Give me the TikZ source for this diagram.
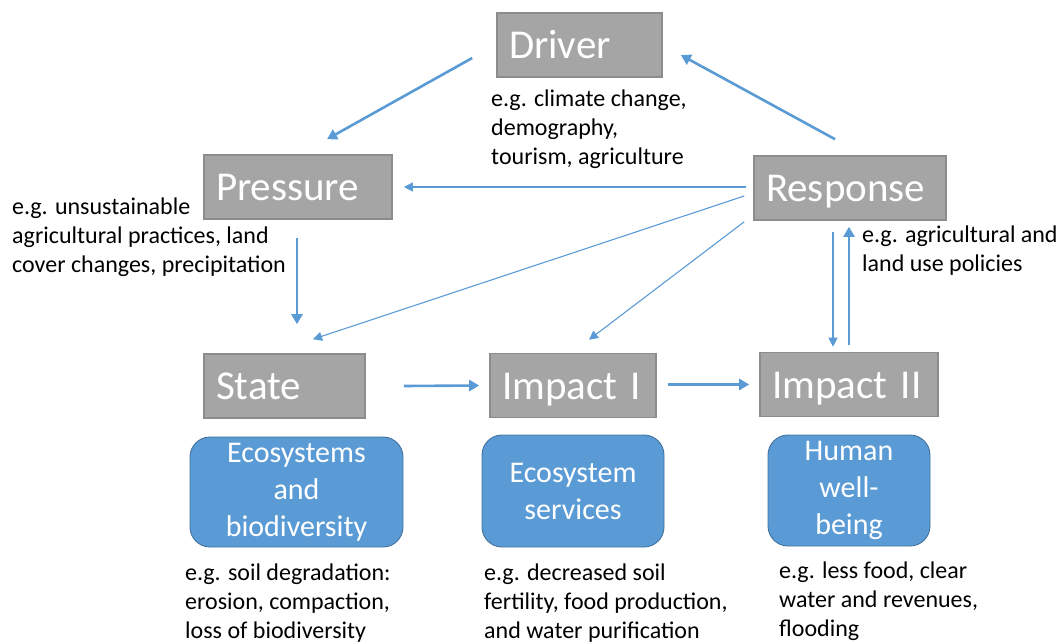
\documentclass[tikz,border=0pt]{standalone}
\usepackage{fontspec}
\setmainfont{Carlito}
\usetikzlibrary{arrows.meta,calc}
\definecolor{greyfill}{HTML}{A5A5A5}
\definecolor{greyline}{HTML}{8C8C8C}
\definecolor{bluefill}{HTML}{5B9BD5}
\definecolor{blueline}{HTML}{41719C}
\definecolor{arrowblue}{HTML}{5B9BD5}
\tikzset{
  greybox/.style={draw=greyline, line width=1.6pt, fill=greyfill, text=white,
    minimum height=64pt, inner xsep=12pt, inner ysep=0pt, align=left,
    text height=27pt, text depth=0pt,
    font=\fontsize{41}{46}\selectfont},
  bluebox/.style={draw=blueline, line width=0.9pt, fill=bluefill, text=white,
    rounded corners=20pt, inner sep=0pt, align=center,
    font=\fontsize{30}{37}\selectfont},
  lbl/.style={inner sep=0pt, align=left, anchor=west,
    font=\fontsize{24}{29}\selectfont},
  thick arrow/.style={draw=arrowblue, line width=2.6pt,
    -{Triangle[length=10pt,width=11pt]}},
  thin arrow/.style={draw=arrowblue, line width=1.1pt,
    -{Triangle[length=9pt,width=9pt]}},
}
\begin{document}
\begin{tikzpicture}[x=1pt,y=-1pt]
\useasboundingbox (0,0) rectangle (1062,643);
% grey boxes
\node[greybox, minimum width=165pt, text width=141pt] (Driver) at (579.5,45) {Driver};
\node[greybox, minimum width=188pt, text width=164pt] (Pressure) at (298,187) {Pressure};
\node[greybox, minimum width=192pt, text width=168pt] (Response) at (850,188) {Response};
\node[greybox, minimum width=161pt, text width=137pt] (State) at (284.5,386) {State};
\node[greybox, minimum width=166pt, text width=142pt] (ImpactI) at (573,385.5) {Impact I};
\node[greybox, minimum width=178pt, text width=154pt] (ImpactII) at (849,384.5) {Impact II};
% blue boxes
\node[bluebox, minimum width=213pt, minimum height=110pt] (Eco) at (296.5,492) {Ecosystems\\and\\biodiversity};
\node[bluebox, minimum width=182pt, minimum height=112pt] (Serv) at (573,491) {Ecosystem\\services};
\node[bluebox, minimum width=162pt, minimum height=111pt] (Human) at (849,490.5) {Human\\well-\\being};
% labels
\node[lbl] (lDriver) at (491,129) {e.g. climate change,\\demography,\\tourism, agriculture};
\node[lbl] (lPressure) at (12,237) {e.g. unsustainable\\agricultural practices, land\\cover changes, precipitation};
\node[lbl] (lResponse) at (862,251) {e.g. agricultural and\\land use policies};
\node[lbl] (lState) at (185,603) {e.g. soil degradation:\\erosion, compaction,\\loss of biodiversity};
\node[lbl] (lImpactI) at (484,603) {e.g. decreased soil\\fertility, food production,\\and water purification};
\node[lbl] (lImpactII) at (779,601) {e.g. less food, clear\\water and revenues,\\flooding};
% connectors
\draw[thick arrow] ($(Driver.west)+(-24,13)$) -- ($(Pressure.north)+(29,-15)$);
\draw[thick arrow] ($(Response.north)+(-15,-16)$) -- ($(Driver.east)+(18,10)$);
\draw[thin arrow] ($(Response.west)+(-7,-1)$) -- ($(Pressure.east)+(11,0)$);
\draw[thin arrow] ($(Response.west)+(-9,8)$) -- ($(State.north)+(28.5,-14)$);
\draw[thin arrow] ($(Response.south west)+(-9,1)$) -- ($(ImpactI.north)+(16,-13)$);
\draw[thin arrow] ($(Response.south)+(-17,11)$) -- ($(ImpactII.north)+(-16,-5)$);
\draw[thick arrow] ($(ImpactII.north)+(0,-7)$) -- ($(Response.south)+(-1,6)$);
\draw[thick arrow] ($(Pressure.south)+(-1,18)$) -- ($(State.north)+(12.5,-29)$);
\draw[thick arrow] ($(State.east)+(38,0)$) -- ($(ImpactI.west)+(-10,0)$);
\draw[thick arrow] ($(ImpactI.east)+(11,-1)$) -- ($(ImpactII.west)+(-10,0)$);
\end{tikzpicture}
\end{document}
